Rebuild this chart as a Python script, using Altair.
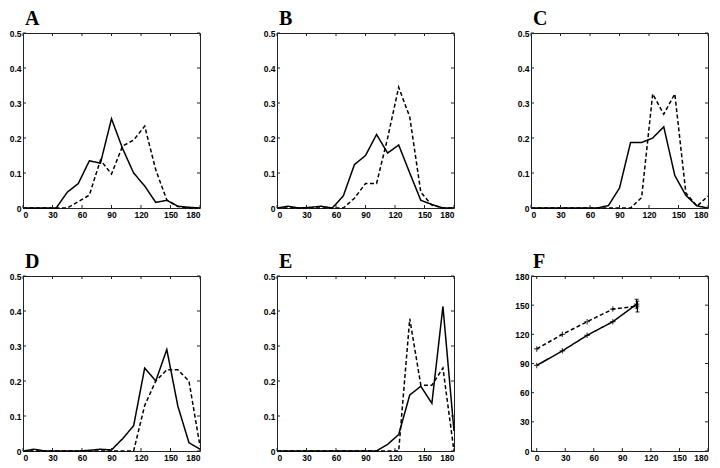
import altair as alt
import pandas as pd

# ---------------- data ----------------
ANGLES = [0, 11.25, 22.5, 33.75, 45, 56.25, 67.5, 78.75, 90, 101.25, 112.5,
          123.75, 135, 146.25, 157.5, 168.75, 180]

A_solid = [0, 0, 0, 0, 0.045, 0.07, 0.135, 0.128, 0.255, 0.17, 0.10, 0.063, 0.016, 0.022, 0.005, 0.002, 0]
A_dashed = [0, 0, 0, 0, 0, 0.018, 0.037, 0.137, 0.097, 0.177, 0.194, 0.234, 0.109, 0.023, 0.004, 0, 0]

B_solid = [0, 0.005, 0, 0.002, 0.005, 0, 0.035, 0.124, 0.15, 0.21, 0.157, 0.18, 0.1, 0.022, 0.01, 0, 0]
B_dashed = [0, 0, 0, 0, 0, 0, 0, 0.028, 0.07, 0.07, 0.2, 0.345, 0.26, 0.045, 0.008, 0, 0]

C_solid = [0, 0, 0, 0, 0, 0, 0, 0.007, 0.057, 0.187, 0.187, 0.2, 0.232, 0.093, 0.036, 0.006, 0]
C_dashed = [0, 0, 0, 0, 0, 0, 0, 0, 0, 0, 0.03, 0.326, 0.268, 0.326, 0.043, 0.005, 0.034]

D_solid = [0, 0.005, 0, 0, 0, 0, 0.002, 0.005, 0.003, 0.035, 0.072, 0.237, 0.2, 0.29, 0.128, 0.024, 0.005]
D_dashed = [0, 0, 0, 0, 0, 0, 0, 0, 0, 0, 0, 0.13, 0.2, 0.232, 0.232, 0.2, 0.014]

E_solid = [0, 0, 0, 0, 0, 0, 0, 0, 0, 0, 0.019, 0.047, 0.16, 0.185, 0.136, 0.413, 0.057]
E_dashed = [0, 0, 0, 0, 0, 0, 0, 0, 0, 0, 0, 0, 0.378, 0.188, 0.188, 0.237, 0]

F_x = [0, 27, 53, 80, 105]
F_solid = [88, 103, 119, 133, 151]
F_dashed = [105, 120, 133, 146, 149]
F_err_solid = [(147, 156)]
F_err_dashed = [(143, 154)]

X_TICKS = [0, 30, 60, 90, 120, 150, 180]
Y_TICKS = [0, 0.1, 0.2, 0.3, 0.4, 0.5]
F_TICKS = [0, 30, 60, 90, 120, 150, 180]

W, H = 177, 175
LABEL_FONT = "Liberation Sans"
TITLE_FONT = "Liberation Serif"

dash_scale = alt.Scale(domain=["solid", "dashed"], range=[[1, 0], [4, 2.5]])


def axis(values, yaxis=False):
    kw = dict(values=values, ticks=False, domain=False, grid=False, title=None,
              labelFont=LABEL_FONT, labelFontWeight="bold", labelFontSize=8.5,
              labelColor="black", labelPadding=2)
    if yaxis:
        kw["labelExpr"] = "datum.value == 0 ? '0' : format(datum.value, '.1f')"
    return alt.Axis(**kw)


def inward_ticks(xvals, yvals, xscale, yscale, xaxis, yaxis):
    xt = pd.DataFrame({"tx": xvals})
    yt = pd.DataFrame({"ty": yvals})
    L = 3
    layers = []
    for y0, y1 in [(H, H - L), (0, L)]:
        layers.append(alt.Chart(xt).mark_rule(color="#222", strokeWidth=1).encode(
            x=alt.X("tx:Q", scale=xscale, axis=xaxis),
            y=alt.value(y0), y2=alt.value(y1)))
    for x0, x1 in [(0, L), (W, W - L)]:
        layers.append(alt.Chart(yt).mark_rule(color="#222", strokeWidth=1).encode(
            y=alt.Y("ty:Q", scale=yscale, axis=yaxis),
            x=alt.value(x0), x2=alt.value(x1)))
    return layers


def title(letter):
    return alt.TitleParams(letter, anchor="start", frame="group", font=TITLE_FONT,
                           fontSize=20, fontWeight="bold", color="black",
                           dx=2, offset=0)


def hist_panel(letter, solid, dashed):
    df = pd.DataFrame({
        "x": ANGLES * 2,
        "y": solid + dashed,
        "s": ["solid"] * len(solid) + ["dashed"] * len(dashed),
    })
    xs = alt.Scale(domain=[0, 180], nice=False, zero=False)
    ys = alt.Scale(domain=[0, 0.5], nice=False)
    xa = axis(X_TICKS)
    ya = axis(Y_TICKS, yaxis=True)
    line = alt.Chart(df).mark_line(color="black", strokeWidth=1.5).encode(
        x=alt.X("x:Q", scale=xs, axis=xa),
        y=alt.Y("y:Q", scale=ys, axis=ya),
        strokeDash=alt.StrokeDash("s:N", scale=dash_scale, legend=None),
        order="x:Q",
    )
    return alt.layer(line, *inward_ticks(X_TICKS, Y_TICKS, xs, ys, xa, ya)).properties(
        width=W, height=H, title=title(letter))


def f_panel():
    df = pd.DataFrame({
        "x": F_x * 2,
        "y": F_solid + F_dashed,
        "s": ["solid"] * len(F_x) + ["dashed"] * len(F_x),
    })
    xs = alt.Scale(domain=[-6, 180], nice=False, zero=False)
    ys = alt.Scale(domain=[0, 180], nice=False)
    xa = axis(F_TICKS)
    ya = axis(F_TICKS)
    base = alt.Chart(df)
    line = base.mark_line(color="black", strokeWidth=1.5).encode(
        x=alt.X("x:Q", scale=xs, axis=xa),
        y=alt.Y("y:Q", scale=ys, axis=ya),
        strokeDash=alt.StrokeDash("s:N", scale=dash_scale, legend=None),
        order="x:Q",
    )
    pts = base.mark_point(shape="M-1,0L1,0M0,-1L0,1", size=30, filled=False,
                          color="black", strokeWidth=1.2).encode(
        x=alt.X("x:Q", scale=xs, axis=xa), y=alt.Y("y:Q", scale=ys, axis=ya))
    err = pd.DataFrame({
        "x": [F_x[-1], F_x[-1] + 0.8],
        "lo": [F_err_solid[0][0], F_err_dashed[0][0]],
        "hi": [F_err_solid[0][1], F_err_dashed[0][1]],
    })
    ebase = alt.Chart(err)
    bars = ebase.mark_rule(color="black", strokeWidth=1.2).encode(
        x=alt.X("x:Q", scale=xs, axis=xa), y=alt.Y("lo:Q", scale=ys, axis=ya), y2="hi:Q")
    cap_lo = ebase.mark_tick(color="black", orient="horizontal", size=4, thickness=1.2).encode(
        x=alt.X("x:Q", scale=xs, axis=xa), y=alt.Y("lo:Q", scale=ys, axis=ya))
    cap_hi = ebase.mark_tick(color="black", orient="horizontal", size=4, thickness=1.2).encode(
        x=alt.X("x:Q", scale=xs, axis=xa), y=alt.Y("hi:Q", scale=ys, axis=ya))
    return alt.layer(line, pts, bars, cap_lo, cap_hi,
                     *inward_ticks(F_TICKS, F_TICKS, xs, ys, xa, ya)).properties(
        width=W, height=H, title=title("F"))


panels = [
    hist_panel("A", A_solid, A_dashed),
    hist_panel("B", B_solid, B_dashed),
    hist_panel("C", C_solid, C_dashed),
    hist_panel("D", D_solid, D_dashed),
    hist_panel("E", E_solid, E_dashed),
    f_panel(),
]

chart = alt.concat(*panels, columns=3, spacing={"row": 68, "column": 77},
                   bounds="flush").properties(
    padding={"left": 0, "top": 0, "right": 0, "bottom": 0},
    background="white",
).configure_view(stroke="#222", strokeWidth=1)

chart.save("out.html", embed_options={"renderer": "svg", "actions": False})
